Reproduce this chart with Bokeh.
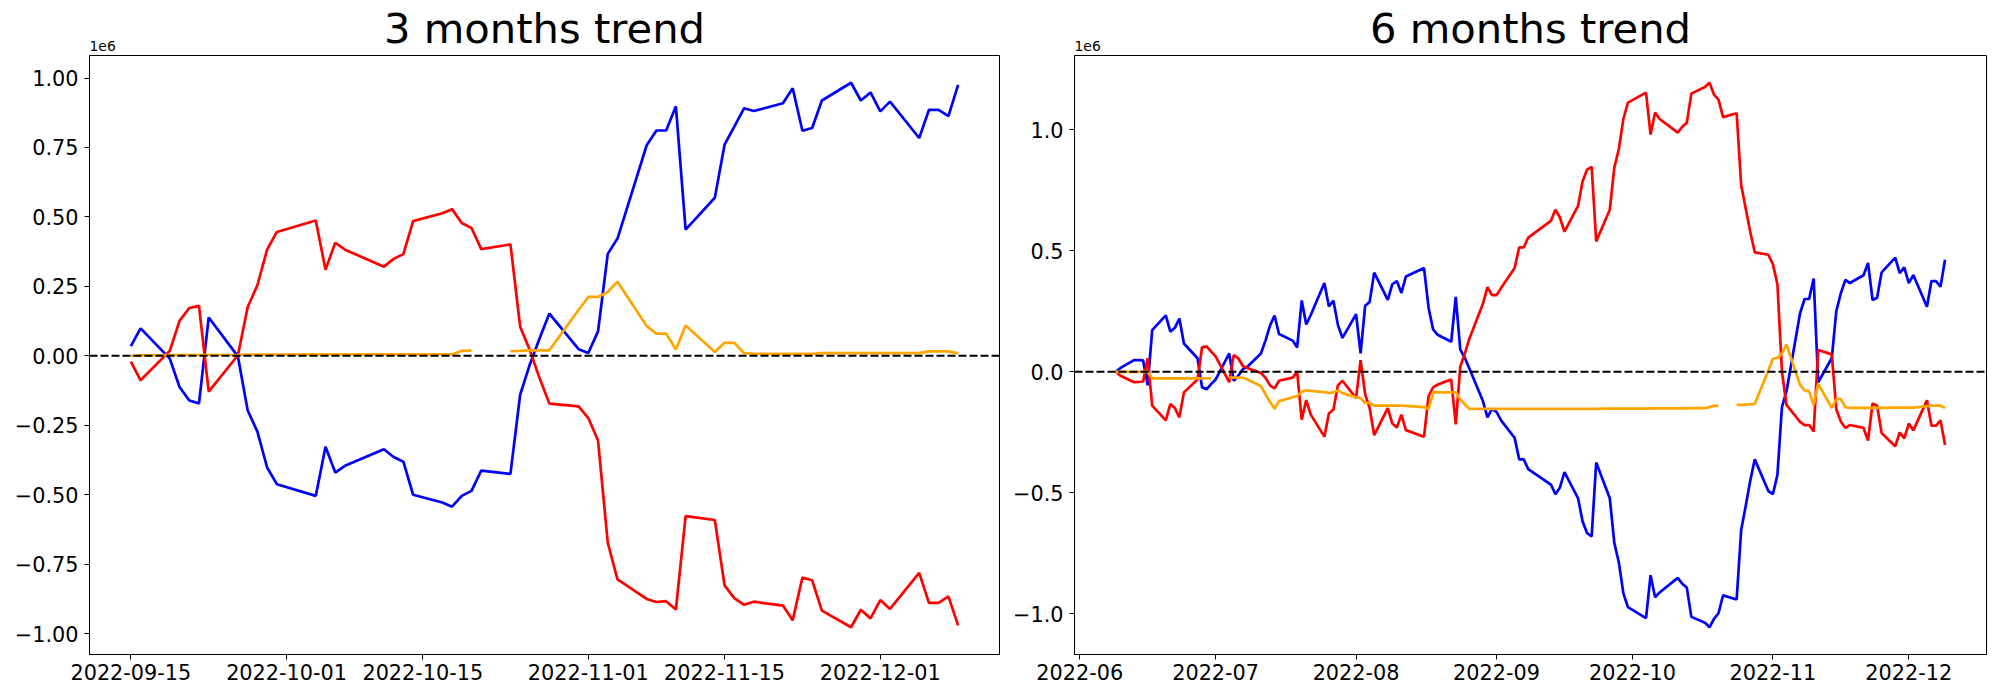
import numpy as np
import pandas as pd
from bokeh.plotting import figure
from bokeh.layouts import row, column
from bokeh.models import (ColumnDataSource, Range1d, FixedTicker, DatetimeTickFormatter,
                          CustomJSTickFormatter, Span)
from bokeh.core.properties import value
from bokeh.embed import file_html
from bokeh.resources import INLINE

NaN = float("nan")
FONT = "DejaVu Sans"

# Korean market holidays in the period (no trading)
holidays = ["2022-08-15", "2022-09-09", "2022-09-12", "2022-10-03", "2022-10-10"]

titles = ["3 months trend", "6 months trend"]
offset_text = "1e6"

# ---------------- 3 months (values in units of 1e6) ----------------
dates_3m = pd.bdate_range("2022-09-15", "2022-12-09", freq="C", holidays=holidays)
blue_3m = [0.035, 0.099, -0.010, -0.112, -0.161, -0.171, 0.138, -0.002, -0.196, -0.273,
           -0.402, -0.462, -0.504, -0.327, -0.420, -0.396, -0.336, -0.364, -0.381, -0.500,
           -0.528, -0.543, -0.504, -0.486, -0.413, -0.425, -0.140, -0.030, 0.063, 0.152,
           0.024, 0.010, 0.088, 0.367, 0.422, 0.758, 0.811, 0.811, 0.898, 0.454,
           0.569, 0.760, 0.825, 0.891, 0.881, 0.909, 0.963, 0.810, 0.820, 0.919,
           0.983, 0.919, 0.948, 0.880, 0.915, 0.784, 0.885, 0.885, 0.863, 0.975]
red_3m = [-0.021, -0.088, 0.018, 0.126, 0.172, 0.180, -0.129, 0.002, 0.175, 0.254,
          0.382, 0.446, 0.487, 0.310, 0.407, 0.382, 0.321, 0.349, 0.366, 0.485,
          0.513, 0.528, 0.478, 0.460, 0.384, 0.401, 0.105, 0.020, -0.081, -0.172,
          -0.182, -0.224, -0.305, -0.672, -0.805, -0.875, -0.886, -0.883, -0.913, -0.577,
          -0.591, -0.826, -0.872, -0.896, -0.885, -0.899, -0.952, -0.798, -0.808, -0.917,
          -0.977, -0.914, -0.945, -0.879, -0.911, -0.781, -0.889, -0.889, -0.866, -0.970]
orange_3m = [0.000, 0.002, 0.003, 0.003, 0.003, 0.003, 0.003, 0.003, 0.004, 0.004,
             0.004, 0.004, 0.005, 0.005, 0.005, 0.005, 0.005, 0.005, 0.005, 0.005,
             0.005, 0.005, 0.018, 0.019, NaN, 0.017, 0.018, 0.020, 0.020, 0.020,
             0.165, 0.212, 0.212, 0.230, 0.267, 0.107, 0.080, 0.080, 0.023, 0.109,
             0.014, 0.047, 0.047, 0.010, 0.007, 0.007, 0.007, 0.007, 0.007, 0.010,
             0.010, 0.010, 0.010, 0.010, 0.010, 0.010, 0.016, 0.016, 0.016, 0.009]

# ---------------- 6 months (values in units of 1e6) ----------------
dates_6m = pd.bdate_range("2022-06-09", "2022-12-09", freq="C", holidays=holidays)
blue_6m = [0.000, 0.016, 0.048, 0.048, 0.047, -0.056, 0.172, 0.233, 0.166, 0.182,
           0.220, 0.117, 0.056, -0.064, -0.072, -0.051,
           -0.032, 0.076, -0.037, -0.016, 0.011, 0.021, 0.076, 0.129, 0.191, 0.233,
           0.156, 0.129, 0.101, 0.295, 0.196, 0.235, 0.367, 0.270, 0.294, 0.193, 0.140,
           0.238, 0.076, 0.273, 0.289, 0.410, 0.297, 0.362, 0.375, 0.326, 0.394,
           0.429, 0.265, 0.175, 0.153, 0.124, 0.310, 0.092, 0.058, 0.014, -0.121,
           -0.188, -0.153,
           -0.166, -0.201, -0.273, -0.362, -0.362, -0.402, -0.466, -0.506, -0.478, -0.415,
           -0.523, -0.619, -0.667, -0.680, -0.375, -0.523, -0.707, -0.788, -0.916, -0.973,
           -1.018, -0.841, -0.932, -0.912, -0.852, -0.876, -0.892, -1.013, -1.037, -1.056,
           -1.021, -0.998, -0.924, -0.941, -0.654, -0.555, -0.450, -0.362, -0.493,
           -0.506, -0.426, -0.146, -0.081, 0.242, 0.301, 0.301, 0.386, -0.044, 0.057,
           0.251, 0.325, 0.380, 0.367, 0.399, 0.450, 0.297, 0.306, 0.411, 0.472,
           0.408, 0.432,
           0.367, 0.400, 0.269, 0.375, 0.375, 0.352, 0.463]
red_6m = [0.000, -0.016, -0.043, -0.042, -0.040, 0.056, -0.140, -0.201, -0.133, -0.150,
          -0.188, -0.085, -0.032, 0.101, 0.105, 0.084,
          0.064, -0.043, 0.069, 0.056, 0.024, 0.016, -0.005, -0.024, -0.056, -0.069,
          -0.037, -0.024, 0.000, -0.198, -0.117, -0.177, -0.268, -0.172, -0.156, -0.056, -0.037,
          -0.109, 0.048, -0.092, -0.150, -0.262, -0.150, -0.214, -0.230, -0.177, -0.241,
          -0.268, -0.101, -0.064, -0.053, -0.032, -0.217, 0.021, 0.075, 0.137, 0.281,
          0.350, 0.317,
          0.317, 0.346, 0.429, 0.514, 0.514, 0.555, 0.624, 0.670, 0.638, 0.579,
          0.686, 0.788, 0.836, 0.847, 0.539, 0.670, 0.844, 0.921, 1.045, 1.113,
          1.154, 0.981, 1.072, 1.045, 0.989, 1.013, 1.029, 1.150, 1.177, 1.195,
          1.146, 1.125, 1.053, 1.069, 0.772, 0.675, 0.579, 0.494, 0.484,
          0.445, 0.362, 0.002, -0.137, -0.207, -0.220, -0.220, -0.247, 0.090, 0.072,
          -0.155, -0.205, -0.232, -0.220, -0.232, -0.284, -0.131, -0.140, -0.253, -0.308,
          -0.251, -0.275,
          -0.214, -0.242, -0.118, -0.223, -0.223, -0.201, -0.303]
orange_6m = [0.000, 0.000, 0.000, 0.000, 0.000, 0.000, -0.027, -0.027, -0.027, -0.027,
             -0.027, -0.027, -0.027, -0.027, -0.027, -0.027,
             NaN, -0.024, -0.024, -0.024, -0.024, -0.032, -0.059, -0.092, -0.124, -0.153,
             -0.121, -0.105, -0.100, -0.082, -0.077, -0.079, -0.084, -0.088, -0.085, -0.077, -0.088,
             -0.105, -0.109, -0.129, -0.129, -0.140, -0.140, -0.140, -0.140, -0.140, -0.141,
             -0.146, -0.153, -0.085, -0.085, -0.085, -0.085, -0.113, -0.134, -0.153, -0.153,
             -0.153, -0.153,
             -0.153, -0.153, -0.153, -0.153, -0.153, -0.153, -0.153, -0.153, -0.153, -0.153,
             -0.153, -0.153, -0.153, -0.153, -0.153, -0.152, -0.152, -0.152, -0.152, -0.152,
             -0.152, -0.151, -0.151, -0.151, -0.151, -0.151, -0.151, -0.150, -0.150, -0.146,
             -0.141, -0.140, NaN, -0.137, -0.137, -0.136, -0.135, -0.133, 0.005,
             0.054, 0.057, 0.076, 0.113, -0.054, -0.077, -0.081, -0.137, -0.050, -0.149,
             -0.113, -0.113, -0.146, -0.149, -0.149, -0.149, -0.149, -0.149, -0.149, -0.148,
             -0.148, -0.148,
             -0.148, -0.148, -0.142, -0.140, -0.140, -0.140, -0.149]

ticks_3m = ["2022-09-15", "2022-10-01", "2022-10-15", "2022-11-01", "2022-11-15", "2022-12-01"]
ticks_6m = ["2022-06-01", "2022-07-01", "2022-08-01", "2022-09-01", "2022-10-01",
            "2022-11-01", "2022-12-01"]
yticks_3m = [-1.0, -0.75, -0.5, -0.25, 0.0, 0.25, 0.5, 0.75, 1.0]
yticks_6m = [-1.0, -0.5, 0.0, 0.5, 1.0]

HEAD_H = 54          # header strip holding the title and the 1e6 offset text
MAIN_H = 644         # plot below it: frame top at y=55, bottom at y=654


def ms(d):
    return pd.Timestamp(d).value / 1e6


def make_header(title, width, border_left, frame_w):
    h = figure(width=width, height=HEAD_H, output_backend="svg", toolbar_location=None,
               x_range=Range1d(0, width), y_range=Range1d(0, HEAD_H),
               x_axis_location=None, y_axis_location=None,
               min_border=0, min_border_left=0, min_border_right=0,
               min_border_top=0, min_border_bottom=0)
    h.grid.visible = False
    h.outline_line_color = None
    h.background_fill_color = "white"
    h.border_fill_color = "white"
    h.text(x=[border_left + frame_w / 2], y=[25.7], text=[title],
           text_font=value(FONT), text_font_size="41.7px", text_color="black",
           text_align="center", text_baseline="alphabetic")
    h.text(x=[border_left], y=[9], text=[offset_text],
           text_font=value(FONT), text_font_size="13.9px", text_color="black",
           text_align="left", text_baseline="alphabetic")
    return h


def make_fig(dates, blue, red, orange, xticks, xfmt, yticks, ydec,
             width, border_left, border_right):
    src = ColumnDataSource(dict(x=dates.to_pydatetime(), b=blue, r=red, o=orange))
    x0, x1 = ms(dates[0]), ms(dates[-1])
    xm = (x1 - x0) * 0.05
    allv = np.array(blue + red + orange, dtype=float)
    lo, hi = np.nanmin(allv), np.nanmax(allv)
    ym = (hi - lo) * 0.05
    p = figure(width=width, height=MAIN_H, x_axis_type="datetime",
               output_backend="svg", toolbar_location=None,
               x_range=Range1d(x0 - xm, x1 + xm), y_range=Range1d(lo - ym, hi + ym),
               min_border_left=border_left, min_border_right=border_right,
               min_border_top=1, min_border_bottom=MAIN_H - 1 - 599)
    p.grid.visible = False
    p.outline_line_color = "black"
    p.outline_line_width = 1
    p.outline_line_alpha = 1
    p.background_fill_color = "white"
    p.border_fill_color = "white"

    for col, color in (("b", "blue"), ("r", "red"), ("o", "orange")):
        p.line("x", col, source=src, line_color=color, line_width=2.7)

    p.add_layout(Span(location=0, dimension="width", line_color="black",
                      line_dash="8 3", line_width=2))

    p.xaxis.ticker = FixedTicker(ticks=[ms(t) for t in xticks], minor_ticks=[])
    p.xaxis.formatter = DatetimeTickFormatter(
        microseconds=xfmt, milliseconds=xfmt, seconds=xfmt, minsec=xfmt, minutes=xfmt,
        hourmin=xfmt, hours=xfmt, days=xfmt, months=xfmt, years=xfmt)
    p.yaxis.ticker = FixedTicker(ticks=yticks, minor_ticks=[])
    p.yaxis.formatter = CustomJSTickFormatter(
        code="return tick.toFixed(%d).replace('-', '\\u2212');" % ydec)
    for ax in (p.xaxis[0], p.yaxis[0]):
        ax.major_label_text_font = FONT
        ax.major_label_text_font_size = "20.8px"
        ax.major_label_text_color = "black"
        ax.axis_line_color = "black"
        ax.axis_line_width = 1
        ax.major_tick_line_color = "black"
        ax.major_tick_line_width = 1
        ax.major_tick_in = 0
        ax.major_tick_out = 5
        ax.minor_tick_line_color = None
    p.xaxis[0].major_label_standoff = 4
    p.yaxis[0].major_label_standoff = 6
    return p


# left chart: frame x 89..999 ; right chart: frame x 1074..1986
W1, BL1, BR1 = 1010, 89, 11
W2, BL2, BR2 = 988, 64, 12

h1 = make_header(titles[0], W1, BL1, W1 - BL1 - BR1)
h2 = make_header(titles[1], W2, BL2, W2 - BL2 - BR2)
p1 = make_fig(dates_3m, blue_3m, red_3m, orange_3m,
              ticks_3m, "%Y-%m-%d", yticks_3m, 2, W1, BL1, BR1)
p2 = make_fig(dates_6m, blue_6m, red_6m, orange_6m,
              ticks_6m, "%Y-%m", yticks_6m, 1, W2, BL2, BR2)

layout = column(row(h1, h2), row(p1, p2))
open("out.html", "w").write(file_html(layout, INLINE))
